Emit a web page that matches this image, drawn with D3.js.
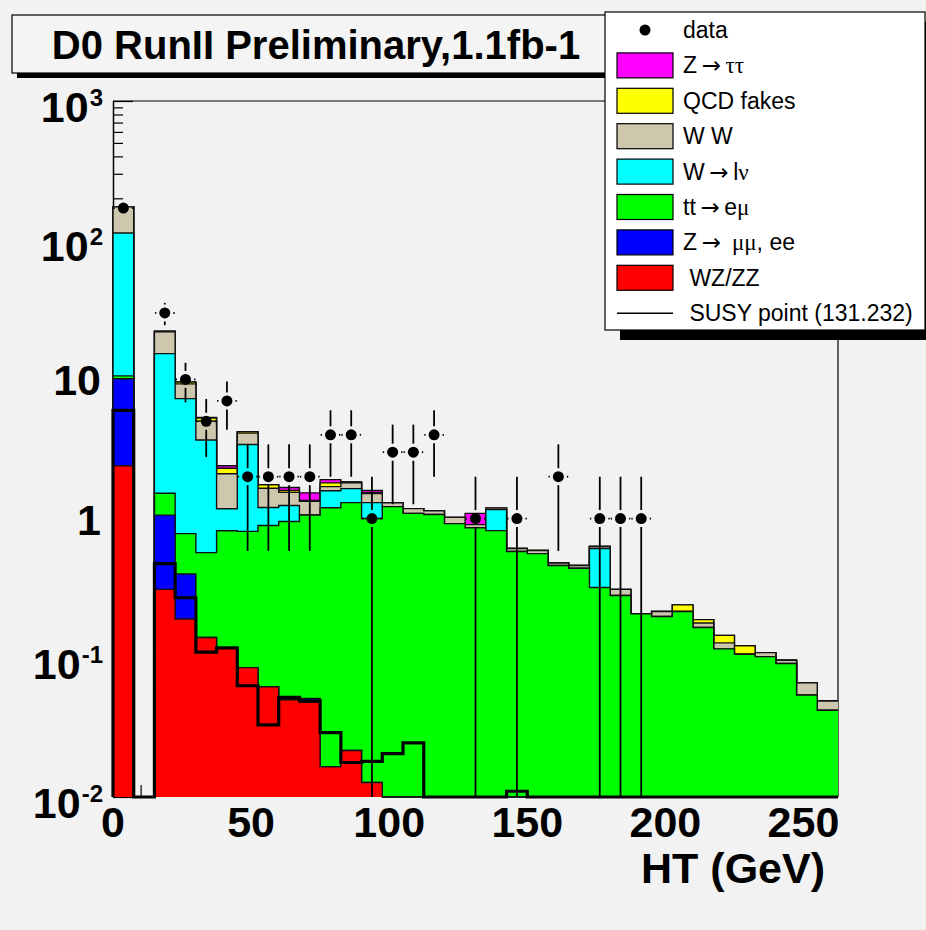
<!DOCTYPE html>
<html>
<head>
<meta charset="utf-8">
<script src="https://cdn.jsdelivr.net/npm/d3@7"></script>
<style>
body { margin: 0; background: #f2f2f2; }
svg { display: block; font-family: "Liberation Sans", Arial, sans-serif; }
</style>
</head>
<body>
<script>
var canvasWidth = 926;
var canvasHeight = 930;
var frame = { left: 113, right: 838, top: 101, bottom: 797 };

// HT bin edges (GeV), 35 bins of 7.5
var binEdges = [0, 7.5, 15, 22.5, 30, 37.5, 45, 52.5, 60, 67.5, 75, 82.5, 90, 97.5, 105, 112.5,
    120, 127.5, 135, 142.5, 150, 157.5, 165, 172.5, 180, 187.5, 195, 202.5, 210, 217.5, 225,
    232.5, 240, 247.5, 255, 262.5];

// backgrounds, bottom of the stack first
var wzzz    = [2.4, 0, 0.31, 0.19, 0.14, 0.118, 0.085, 0.062, 0.05, 0.048, 0.0165, 0.0216, 0.0127, 0, 0, 0, 0, 0, 0, 0, 0, 0, 0, 0, 0, 0, 0, 0, 0, 0, 0, 0, 0, 0, 0];
var zmumu   = [7.7, 0, 0.75, 0.21, 0, 0, 0, 0, 0.002, 0.003, 0, 0, 0, 0, 0, 0, 0, 0, 0, 0, 0, 0, 0, 0, 0, 0, 0, 0, 0, 0, 0, 0, 0, 0, 0];
var ttemu   = [0.5, 0, 0.46, 0.38, 0.43, 0.70, 0.725, 0.83, 0.90, 1.01, 1.18, 1.28, 0.99, 1.22, 1.09, 1.07, 0.92, 0.86, 0.82, 0.58, 0.56, 0.46, 0.44, 0.32, 0.28, 0.207, 0.198, 0.215, 0.165, 0.116, 0.106, 0.102, 0.091, 0.054, 0.042];
var wlnu    = [102, 0, 13.8, 6.5, 3.1, 0.36, 2.6, 0.31, 0.29, 0, 0.39, 0.34, 0.30, 0, 0, 0, 0, 0, 0.34, 0, 0, 0, 0, 0.29, 0, 0, 0, 0, 0, 0, 0, 0, 0, 0, 0];
var ww      = [61, 0, 6.7, 2.0, 1.36, 0.92, 0.7, 0.45, 0.30, 0.27, 0.11, 0.17, 0.21, 0.08, 0.09, 0.07, 0.10, 0.045, 0.03, 0.03, 0.03, 0.02, 0.02, 0.02, 0.03, 0, 0.017, 0, 0.013, 0.012, 0, 0.007, 0.005, 0.012, 0.007];
var qcd     = [0, 0, 0.2, 0.3, 0.25, 0.2, 0.1, 0.1, 0.05, 0.02, 0.11, 0.02, 0.02, 0, 0, 0, 0, 0, 0, 0, 0, 0, 0, 0, 0, 0, 0, 0.025, 0.01, 0.017, 0.016, 0, 0, 0, 0];
var ztautau = [0, 0, 0, 0, 0.05, 0.1, 0, 0, 0.08, 0.18, 0.1, 0, 0.06, 0, 0, 0, 0, 0.185, 0, 0, 0, 0, 0, 0, 0, 0, 0, 0, 0, 0, 0, 0, 0, 0, 0];

// signal
var susy    = [6.0, 0, 0.475, 0.27, 0.11, 0.118, 0.063, 0.033, 0.052, 0.049, 0.029, 0.0177, 0.018, 0.0205, 0.0245, 0, 0, 0, 0, 0.011, 0, 0, 0, 0, 0, 0, 0, 0, 0, 0, 0, 0, 0, 0, 0];

// observed events
var dataCounts = [170, 0, 30, 10, 5, 7, 2, 2, 2, 2, 4, 4, 1, 3, 3, 4, 0, 1, 0, 1, 0, 2, 0, 1, 1, 1, 0, 0, 0, 0, 0, 0, 0, 0, 0];

var stackSeries = [wzzz, zmumu, ttemu, wlnu, ww, qcd, ztautau];
var stackColors = ["#ff0000", "#0000ff", "#00ff00", "#00ffff", "#cdc7ad", "#ffff00", "#ff00ff"];

var xTickValues = [0, 50, 100, 150, 200, 250];
var yTickValues = [0.01, 0.1, 1, 10, 100, 1000];
var yLabelBase = ["10", "10", "1", "10", "10", "10"];
var yLabelExp = ["-2", "-1", "", "", "2", "3"];

var legendLabels = ["data", "Z\u2009\u2192\u2009\u03c4\u03c4", "QCD fakes", "W W", "W\u2009\u2192\u2009l\u03bd",
    "tt\u2009\u2192\u2009e\u03bc", "Z\u2009\u2192\u2009 \u03bc\u03bc, ee", " WZ/ZZ", " SUSY point (131.232)"];
var legendColors = [null, "#ff00ff", "#ffff00", "#cdc7ad", "#00ffff", "#00ff00", "#0000ff", "#ff0000", null];

var svg = d3.select("body").append("svg")
    .attr("width", canvasWidth)
    .attr("height", canvasHeight);

svg.append("rect")
    .attr("width", canvasWidth)
    .attr("height", canvasHeight)
    .attr("fill", "#f2f2f2");

var xScale = d3.scaleLinear().domain([0, 262.5]).range([frame.left, frame.right]);
var yScale = d3.scaleLog().domain([0.01, 1000]).range([frame.bottom, frame.top]);
function yv(v) { return yScale(Math.max(v, 0.01)); }

// frame (top and right)
svg.append("path")
    .attr("d", "M" + frame.left + "," + frame.top + "H" + frame.right + "V" + frame.bottom)
    .attr("fill", "none")
    .attr("stroke", "black")
    .attr("stroke-width", 1.2);

// ticks, drawn first so histograms cover them
var minorY = [];
for (var d of [0.01, 0.1, 1, 10, 100]) {
    for (var m = 2; m <= 9; m++) minorY.push(d * m);
}
svg.append("g")
    .attr("transform", "translate(" + frame.left + ",0)")
    .call(d3.axisLeft(yScale).tickValues(minorY).tickSize(-10).tickSizeOuter(0).tickFormat(""))
    .call(g => g.selectAll("line").attr("stroke-width", 1.2))
    .call(g => g.select(".domain").attr("stroke-width", 1.5));
svg.append("g")
    .attr("transform", "translate(" + frame.left + ",0)")
    .call(d3.axisLeft(yScale).tickValues(yTickValues).tickSize(-20).tickSizeOuter(0).tickFormat(""))
    .call(g => g.selectAll("line").attr("stroke-width", 1.2))
    .call(g => g.select(".domain").remove());

var minorX = [10, 20, 30, 40, 60, 70, 80, 90, 110, 120, 130, 140, 160, 170, 180, 190, 210, 220, 230, 240, 260];
svg.append("g")
    .attr("transform", "translate(0," + frame.bottom + ")")
    .call(d3.axisBottom(xScale).tickValues(minorX).tickSize(-12).tickSizeOuter(0).tickFormat(""))
    .call(g => g.selectAll("line").attr("stroke-width", 1.2))
    .call(g => g.select(".domain").remove());
svg.append("g")
    .attr("transform", "translate(0," + frame.bottom + ")")
    .call(d3.axisBottom(xScale).tickValues(xTickValues).tickSize(-22).tickSizeOuter(0).tickFormat(""))
    .call(g => g.selectAll("line").attr("stroke-width", 1.2))
    .call(g => g.select(".domain").remove());

// step shape helpers
function stepPoints(vals) {
    var pts = [[binEdges[0], 0]];
    vals.forEach(function(v, i) {
        pts.push([binEdges[i], v]);
        pts.push([binEdges[i + 1], v]);
    });
    return pts;
}
var line = d3.line()
    .x(function(p) { return xScale(p[0]); })
    .y(function(p) { return yv(p[1]); });

// cumulative stack
var cumulative = [];
stackSeries.forEach(function(s, k) {
    cumulative.push(s.map(function(v, i) { return v + (k > 0 ? cumulative[k - 1][i] : 0); }));
});

for (var k = cumulative.length - 1; k >= 0; k--) {
    var pts = stepPoints(cumulative[k]);
    svg.append("path")
        .attr("d", line(pts.concat([[binEdges[binEdges.length - 1], 0]])) + "Z")
        .attr("fill", stackColors[k])
        .attr("stroke", "none");
    svg.append("path")
        .attr("d", line(pts))
        .attr("fill", "none")
        .attr("stroke", "#111")
        .attr("stroke-width", 1.4);
}

// SUSY histogram
svg.append("path")
    .attr("d", line(stepPoints(susy).concat([[binEdges[binEdges.length - 1], 0]])))
    .attr("fill", "none")
    .attr("stroke", "black")
    .attr("stroke-width", 3.2);

// data with poisson errors
var gap = 8.5;
var dataG = svg.append("g");
dataCounts.forEach(function(n, i) {
    if (n <= 0) return;
    var xc = xScale((binEdges[i] + binEdges[i + 1]) / 2);
    var yc = yv(n);
    var err = Math.sqrt(n);
    var yUp = yv(n + err);
    var yLo = n - err > 0.01 ? yv(n - err) : frame.bottom;
    var segs = [];
    if (yc - yUp > gap) segs.push([xc, yc - gap, xc, yUp]);
    if (yLo - yc > gap) segs.push([xc, yc + gap, xc, yLo]);
    segs.push([xScale(binEdges[i]) + 0.5, yc, xc - gap, yc]);
    segs.push([xc + gap, yc, xScale(binEdges[i + 1]) - 0.5, yc]);
    segs.forEach(function(s) {
        dataG.append("line")
            .attr("x1", s[0]).attr("y1", s[1])
            .attr("x2", s[2]).attr("y2", s[3])
            .attr("stroke", "black")
            .attr("stroke-width", 1.8);
    });
    dataG.append("circle")
        .attr("cx", xc)
        .attr("cy", yc)
        .attr("r", 5.5)
        .attr("fill", "black");
});

// axis labels
var yLab = svg.append("g")
    .attr("font-weight", "bold")
    .attr("fill", "black");
yTickValues.forEach(function(v, i) {
    var ty = yScale(v);
    if (yLabelExp[i] === "") {
        yLab.append("text")
            .attr("x", 101)
            .attr("y", ty + 16)
            .attr("text-anchor", "end")
            .attr("font-size", "43px")
            .text(yLabelBase[i]);
    } else {
        var sup = yLab.append("text")
            .attr("x", 103)
            .attr("y", ty + 5)
            .attr("text-anchor", "end")
            .attr("font-size", "24px")
            .text(yLabelExp[i]);
        var w = sup.node().getComputedTextLength();
        yLab.append("text")
            .attr("x", 103 - w - 1)
            .attr("y", ty + 21)
            .attr("text-anchor", "end")
            .attr("font-size", "43px")
            .text(yLabelBase[i]);
    }
});

svg.append("g")
    .attr("font-weight", "bold")
    .selectAll("text")
    .data(xTickValues)
    .join("text")
    .attr("x", d => xScale(d))
    .attr("y", 837)
    .attr("text-anchor", "middle")
    .attr("font-size", "43px")
    .text(d => d);

svg.append("text")
    .attr("x", 825)
    .attr("y", 883)
    .attr("text-anchor", "end")
    .attr("font-weight", "bold")
    .attr("font-size", "43px")
    .text("HT (GeV)");

// title box
svg.append("rect")
    .attr("x", 17).attr("y", 20)
    .attr("width", 594).attr("height", 58)
    .attr("fill", "black");
svg.append("rect")
    .attr("x", 12).attr("y", 15)
    .attr("width", 594).attr("height", 58)
    .attr("fill", "#f4f4f4")
    .attr("stroke", "black")
    .attr("stroke-width", 1.2);
svg.append("text")
    .attr("x", 316)
    .attr("y", 59)
    .attr("text-anchor", "middle")
    .attr("font-weight", "bold")
    .attr("font-size", "40px")
    .text("D0 RunII Preliminary,1.1fb-1");

// legend
svg.append("rect")
    .attr("x", 620).attr("y", 22)
    .attr("width", 320).attr("height", 318)
    .attr("fill", "black");
svg.append("rect")
    .attr("x", 605).attr("y", 12)
    .attr("width", 320).attr("height", 318)
    .attr("fill", "white")
    .attr("stroke", "black")
    .attr("stroke-width", 1.2);

var rowH = 35.4;
legendLabels.forEach(function(label, i) {
    var cy = 30 + i * rowH;
    if (i === 0) {
        svg.append("circle").attr("cx", 645).attr("cy", cy).attr("r", 5.5).attr("fill", "black");
    } else if (legendColors[i]) {
        svg.append("rect")
            .attr("x", 617).attr("y", cy - 12.5)
            .attr("width", 56).attr("height", 25)
            .attr("fill", legendColors[i])
            .attr("stroke", "black")
            .attr("stroke-width", 1.2);
    } else {
        svg.append("line")
            .attr("x1", 617).attr("x2", 673)
            .attr("y1", cy).attr("y2", cy)
            .attr("stroke", "black")
            .attr("stroke-width", 1.5);
    }
    var t = svg.append("text")
        .attr("x", 683)
        .attr("y", cy + 8)
        .attr("font-size", "23px")
        .style("white-space", "pre");
    // arrow and greek letters in other faces, like ROOT's symbol font
    label.split(/(\u2192|[\u03c4\u03bd\u03bc]+)/).forEach(function(part) {
        if (part === "") return;
        var face = null;
        if (part === "\u2192") face = "'DejaVu Sans', sans-serif";
        else if (/[\u03c4\u03bd\u03bc]/.test(part)) face = "'Liberation Serif', 'DejaVu Serif', serif";
        t.append("tspan")
            .attr("font-family", face)
            .text(part);
    });
});
</script>
</body>
</html>
